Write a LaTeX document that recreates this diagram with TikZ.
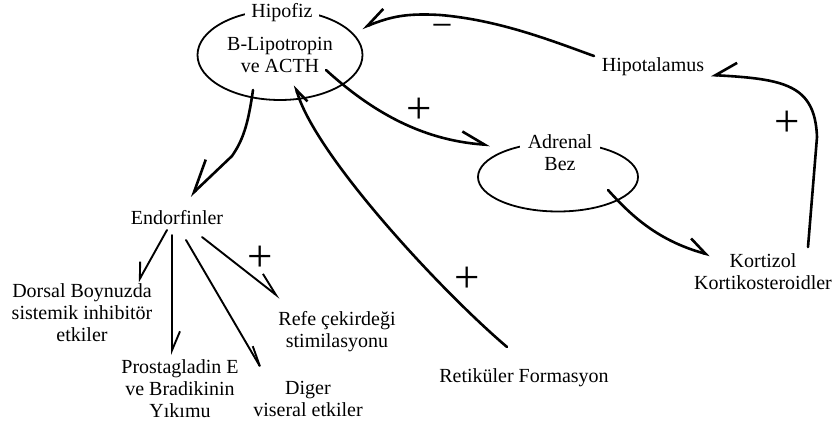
\documentclass[tikz,border=0pt]{standalone}
\usepackage{fontspec}
\setmainfont{Liberation Serif}
\usetikzlibrary{arrows.meta,shapes.geometric}
\begin{document}
\begin{tikzpicture}[x=1pt,y=-1pt,
  lbl/.style={font=\fontsize{20}{22}\selectfont, align=center, inner sep=1pt},
  oval/.style={draw, ellipse, line width=1.8pt, inner sep=0pt},
  thk/.style={line width=2.6pt, line cap=round},
  thn/.style={line width=1.9pt, line cap=round},
  sgn/.style={font=\fontsize{45}{45}\selectfont, inner sep=0pt},
  tl/.style n args={2}{-{Straight Barb[harpoon,length=#1,width=#2]}},
  tr/.style n args={2}{-{Straight Barb[harpoon,swap,length=#1,width=#2]}},
]
\useasboundingbox[fill=white] (0,0) rectangle (834,427);

% ovals
\node[oval, lbl, inner sep=0pt, minimum width=165pt, minimum height=90pt] (hip) at (280,55) {B-Lipotropin\\ve ACTH};
\node[oval, minimum width=160pt, minimum height=69pt] (adr) at (558,177) {};

% labels
\node[lbl, fill=white, inner xsep=6pt, anchor=base] (hipofiz) at (282,18) {Hipofiz};
\node[lbl, fill=white, inner xsep=8pt] (adrl) at (560,153) {Adrenal\\Bez};
\node[lbl, anchor=base] (hipot) at (653,72) {Hipotalamus};
\node[lbl] (kort) at (763,272) {Kortizol\\Kortikosteroidler};
\node[lbl, anchor=base] (endorf) at (177,225) {Endorfinler};
\node[lbl] (dorsal) at (82,313) {Dorsal Boynuzda\\sistemik inhibitör\\etkiler};
\node[lbl] (prost) at (180,389) {Prostagladin E\\ve Bradikinin\\Yıkımu};
\node[lbl] (diger) at (308,399) {Diger\\viseral etkiler};
\node[lbl] (refe) at (337,332) {Refe çekirdeği\\stimilasyonu};
\node[lbl, anchor=base] (retik) at (524,382) {Retiküler Formasyon};

% signs
\node[sgn] (p1) at (419,111) {+};
\node[sgn] (p2) at (260,259) {+};
\node[sgn] (p3) at (467,280) {+};
\node[sgn] (p4) at (787,124) {+};
\node[sgn, font=\fontsize{37}{37}\selectfont] (m1) at (442,31) {−};

% thick connectors
\draw[thk, tr={31pt}{31pt}] ([shift={(-27,35)}]hip.center) .. controls (248,125) and (243,140) .. (232,156) -- ([shift={(13,-29)}]endorf.base);
\draw[thk, tr={14pt}{15pt}] ([shift={(-17,-35)}]retik.base) .. controls (440,290) and (315,155) .. ([shift={(15,30)}]hip.center);
\draw[thk, tl={23pt}{23pt}] ([shift={(46,15)}]hip.center) .. controls (370,110) and (420,140) .. ([shift={(-68,-32)}]adr.center);
\draw[thk, tr={21pt}{20pt}] ([shift={(-59,-16)}]hipot.base) .. controls (555,42) and (500,20) .. (440,15) .. controls (405,13) and (390,17) .. ([shift={(82,-27)}]hip.center);
\draw[thk, tr={21pt}{27pt}] ([shift={(45,-25)}]kort.center) -- (817,137) .. controls (815,85) and (785,79) .. ([shift={(58,3)}]hipot.base);
\draw[thk, tl={18pt}{22pt}] ([shift={(50,13)}]adr.center) .. controls (628,212) and (655,240) .. ([shift={(-53,-17)}]kort.center);

% thin connectors from Endorfinler
\draw[thn, tr={15pt}{16pt}] ([shift={(-10,5)}]endorf.base) -- ([shift={(56,-31)}]dorsal.center);
\draw[thn, tl={19pt}{16pt}] ([shift={(-5,10)}]endorf.base) -- ([shift={(-8,-34)}]prost.center);
\draw[thn, tl={21pt}{8pt}] ([shift={(9,15)}]endorf.base) -- ([shift={(-43,-24)}]diger.center);
\draw[thn, tl={23pt}{17pt}] ([shift={(25,12)}]endorf.base) -- ([shift={(-57,-34)}]refe.center);
\end{tikzpicture}
\end{document}
